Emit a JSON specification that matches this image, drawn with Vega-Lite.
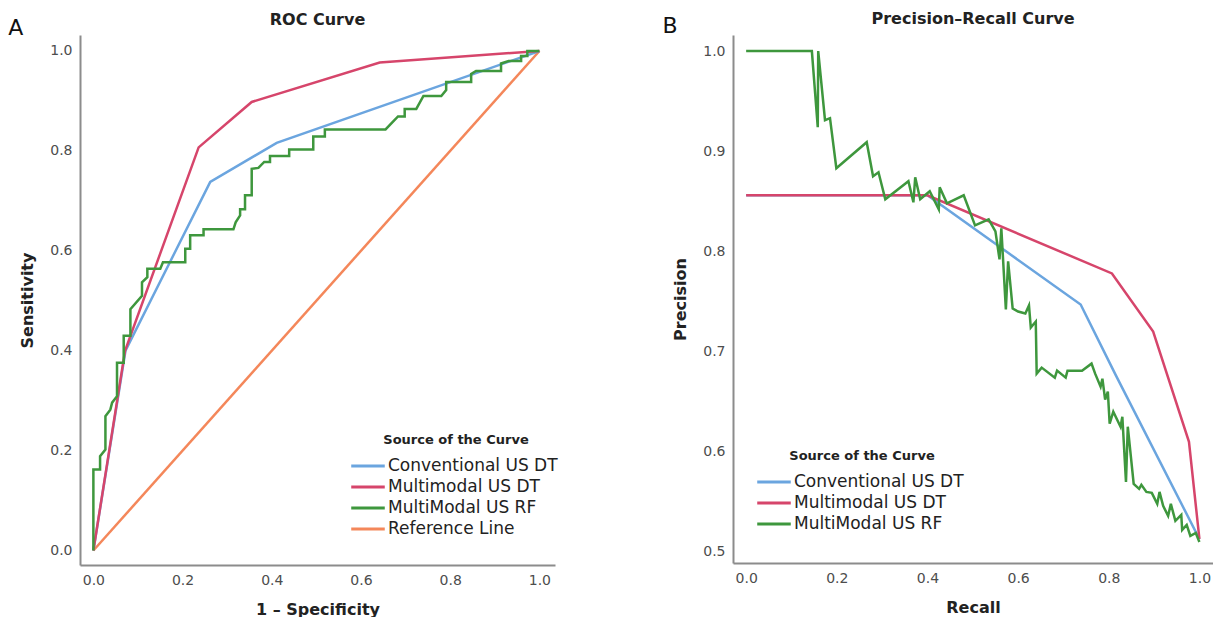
{
"$schema": "https://vega.github.io/schema/vega-lite/v6.json",
"background": "white",
"padding": {"left": 8, "top": 10, "right": 0, "bottom": 0},
"spacing": 104,
"config": {
  "font": "DejaVu Sans",
  "view": {"stroke": null},
  "axis": {"domainColor": "#8c8c8c", "domainWidth": 2, "ticks": false, "grid": false, "labelColor": "#4d4d4d", "labelFontSize": 14, "labelFont": "DejaVu Sans", "titleFont": "DejaVu Sans", "titleFontSize": 16, "titleFontWeight": "bold", "titleColor": "#222222", "labelPadding": 8},
  "legend": {"orient": "none", "padding": 0, "titleFont": "DejaVu Sans", "titleFontSize": 13, "titleFontWeight": "bold", "titleColor": "#222222", "titleAnchor": "middle", "titleAlign": "center", "titlePadding": 6, "labelFont": "DejaVu Sans", "labelFontSize": 17, "labelColor": "#222222", "labelLimit": 300, "symbolType": "M-1.5,0H1.5", "symbolStrokeWidth": 3, "symbolSize": 500, "rowPadding": 0, "labelOffset": 7},
  "title": {"font": "DejaVu Sans", "fontSize": 16, "fontWeight": "bold", "color": "#222222"}
},
"resolve": {"scale": {"color": "independent"}, "legend": {"color": "independent"}},
"datasets": {
  "roc": [
    {"curve": "Reference Line", "i": 0, "fpr": 0, "tpr": 0},
    {"curve": "Reference Line", "i": 1, "fpr": 1, "tpr": 1},
    {"curve": "Conventional US DT", "i": 0, "fpr": 0, "tpr": 0},
    {"curve": "Conventional US DT", "i": 1, "fpr": 0.072, "tpr": 0.40},
    {"curve": "Conventional US DT", "i": 2, "fpr": 0.262, "tpr": 0.738},
    {"curve": "Conventional US DT", "i": 3, "fpr": 0.411, "tpr": 0.816},
    {"curve": "Conventional US DT", "i": 4, "fpr": 1, "tpr": 1},
    {"curve": "Multimodal US DT", "i": 0, "fpr": 0, "tpr": 0},
    {"curve": "Multimodal US DT", "i": 1, "fpr": 0.071, "tpr": 0.40},
    {"curve": "Multimodal US DT", "i": 2, "fpr": 0.236, "tpr": 0.807},
    {"curve": "Multimodal US DT", "i": 3, "fpr": 0.355, "tpr": 0.898},
    {"curve": "Multimodal US DT", "i": 4, "fpr": 0.642, "tpr": 0.977},
    {"curve": "Multimodal US DT", "i": 5, "fpr": 1, "tpr": 1},
    {"curve": "MultiModal US RF", "i": 0, "fpr": 0, "tpr": 0},
    {"curve": "MultiModal US RF", "i": 1, "fpr": 0, "tpr": 0.162},
    {"curve": "MultiModal US RF", "i": 2, "fpr": 0.015, "tpr": 0.162},
    {"curve": "MultiModal US RF", "i": 3, "fpr": 0.015, "tpr": 0.189},
    {"curve": "MultiModal US RF", "i": 4, "fpr": 0.027, "tpr": 0.202},
    {"curve": "MultiModal US RF", "i": 5, "fpr": 0.027, "tpr": 0.269},
    {"curve": "MultiModal US RF", "i": 6, "fpr": 0.038, "tpr": 0.282},
    {"curve": "MultiModal US RF", "i": 7, "fpr": 0.042, "tpr": 0.296},
    {"curve": "MultiModal US RF", "i": 8, "fpr": 0.053, "tpr": 0.309},
    {"curve": "MultiModal US RF", "i": 9, "fpr": 0.053, "tpr": 0.376},
    {"curve": "MultiModal US RF", "i": 10, "fpr": 0.068, "tpr": 0.376},
    {"curve": "MultiModal US RF", "i": 11, "fpr": 0.068, "tpr": 0.43},
    {"curve": "MultiModal US RF", "i": 12, "fpr": 0.083, "tpr": 0.43},
    {"curve": "MultiModal US RF", "i": 13, "fpr": 0.083, "tpr": 0.483},
    {"curve": "MultiModal US RF", "i": 14, "fpr": 0.109, "tpr": 0.51},
    {"curve": "MultiModal US RF", "i": 15, "fpr": 0.109, "tpr": 0.537},
    {"curve": "MultiModal US RF", "i": 16, "fpr": 0.121, "tpr": 0.547},
    {"curve": "MultiModal US RF", "i": 17, "fpr": 0.121, "tpr": 0.564},
    {"curve": "MultiModal US RF", "i": 18, "fpr": 0.15, "tpr": 0.564},
    {"curve": "MultiModal US RF", "i": 19, "fpr": 0.156, "tpr": 0.577},
    {"curve": "MultiModal US RF", "i": 20, "fpr": 0.206, "tpr": 0.577},
    {"curve": "MultiModal US RF", "i": 21, "fpr": 0.206, "tpr": 0.604},
    {"curve": "MultiModal US RF", "i": 22, "fpr": 0.217, "tpr": 0.604},
    {"curve": "MultiModal US RF", "i": 23, "fpr": 0.217, "tpr": 0.631},
    {"curve": "MultiModal US RF", "i": 24, "fpr": 0.247, "tpr": 0.631},
    {"curve": "MultiModal US RF", "i": 25, "fpr": 0.247, "tpr": 0.643},
    {"curve": "MultiModal US RF", "i": 26, "fpr": 0.314, "tpr": 0.643},
    {"curve": "MultiModal US RF", "i": 27, "fpr": 0.319, "tpr": 0.657},
    {"curve": "MultiModal US RF", "i": 28, "fpr": 0.329, "tpr": 0.671},
    {"curve": "MultiModal US RF", "i": 29, "fpr": 0.329, "tpr": 0.683},
    {"curve": "MultiModal US RF", "i": 30, "fpr": 0.34, "tpr": 0.683},
    {"curve": "MultiModal US RF", "i": 31, "fpr": 0.34, "tpr": 0.711},
    {"curve": "MultiModal US RF", "i": 32, "fpr": 0.355, "tpr": 0.711},
    {"curve": "MultiModal US RF", "i": 33, "fpr": 0.355, "tpr": 0.764},
    {"curve": "MultiModal US RF", "i": 34, "fpr": 0.37, "tpr": 0.766},
    {"curve": "MultiModal US RF", "i": 35, "fpr": 0.383, "tpr": 0.778},
    {"curve": "MultiModal US RF", "i": 36, "fpr": 0.396, "tpr": 0.778},
    {"curve": "MultiModal US RF", "i": 37, "fpr": 0.396, "tpr": 0.79},
    {"curve": "MultiModal US RF", "i": 38, "fpr": 0.439, "tpr": 0.79},
    {"curve": "MultiModal US RF", "i": 39, "fpr": 0.439, "tpr": 0.803},
    {"curve": "MultiModal US RF", "i": 40, "fpr": 0.493, "tpr": 0.803},
    {"curve": "MultiModal US RF", "i": 41, "fpr": 0.493, "tpr": 0.829},
    {"curve": "MultiModal US RF", "i": 42, "fpr": 0.519, "tpr": 0.829},
    {"curve": "MultiModal US RF", "i": 43, "fpr": 0.519, "tpr": 0.843},
    {"curve": "MultiModal US RF", "i": 44, "fpr": 0.655, "tpr": 0.843},
    {"curve": "MultiModal US RF", "i": 45, "fpr": 0.683, "tpr": 0.869},
    {"curve": "MultiModal US RF", "i": 46, "fpr": 0.698, "tpr": 0.869},
    {"curve": "MultiModal US RF", "i": 47, "fpr": 0.698, "tpr": 0.884},
    {"curve": "MultiModal US RF", "i": 48, "fpr": 0.724, "tpr": 0.884},
    {"curve": "MultiModal US RF", "i": 49, "fpr": 0.74, "tpr": 0.91},
    {"curve": "MultiModal US RF", "i": 50, "fpr": 0.78, "tpr": 0.91},
    {"curve": "MultiModal US RF", "i": 51, "fpr": 0.791, "tpr": 0.922},
    {"curve": "MultiModal US RF", "i": 52, "fpr": 0.791, "tpr": 0.938},
    {"curve": "MultiModal US RF", "i": 53, "fpr": 0.847, "tpr": 0.938},
    {"curve": "MultiModal US RF", "i": 54, "fpr": 0.847, "tpr": 0.954},
    {"curve": "MultiModal US RF", "i": 55, "fpr": 0.858, "tpr": 0.96},
    {"curve": "MultiModal US RF", "i": 56, "fpr": 0.914, "tpr": 0.96},
    {"curve": "MultiModal US RF", "i": 57, "fpr": 0.914, "tpr": 0.975},
    {"curve": "MultiModal US RF", "i": 58, "fpr": 0.931, "tpr": 0.98},
    {"curve": "MultiModal US RF", "i": 59, "fpr": 0.959, "tpr": 0.98},
    {"curve": "MultiModal US RF", "i": 60, "fpr": 0.959, "tpr": 0.99},
    {"curve": "MultiModal US RF", "i": 61, "fpr": 0.973, "tpr": 0.99},
    {"curve": "MultiModal US RF", "i": 62, "fpr": 0.973, "tpr": 1.0},
    {"curve": "MultiModal US RF", "i": 63, "fpr": 1, "tpr": 1}
  ],
  "pr": [
    {"curve": "Conventional US DT", "i": 0, "recall": 0, "precision": 0.856},
    {"curve": "Conventional US DT", "i": 1, "recall": 0.40, "precision": 0.856},
    {"curve": "Conventional US DT", "i": 2, "recall": 0.738, "precision": 0.747},
    {"curve": "Conventional US DT", "i": 3, "recall": 0.816, "precision": 0.676},
    {"curve": "Conventional US DT", "i": 4, "recall": 1.0, "precision": 0.513},
    {"curve": "Multimodal US DT", "i": 0, "recall": 0, "precision": 0.856},
    {"curve": "Multimodal US DT", "i": 1, "recall": 0.40, "precision": 0.856},
    {"curve": "Multimodal US DT", "i": 2, "recall": 0.807, "precision": 0.778},
    {"curve": "Multimodal US DT", "i": 3, "recall": 0.898, "precision": 0.72},
    {"curve": "Multimodal US DT", "i": 4, "recall": 0.977, "precision": 0.61},
    {"curve": "Multimodal US DT", "i": 5, "recall": 1.0, "precision": 0.513},
    {"curve": "MultiModal US RF", "i": 0, "recall": 0, "precision": 1.0},
    {"curve": "MultiModal US RF", "i": 1, "recall": 0.145, "precision": 1.0},
    {"curve": "MultiModal US RF", "i": 2, "recall": 0.158, "precision": 0.924},
    {"curve": "MultiModal US RF", "i": 3, "recall": 0.159, "precision": 1.0},
    {"curve": "MultiModal US RF", "i": 4, "recall": 0.174, "precision": 0.931},
    {"curve": "MultiModal US RF", "i": 5, "recall": 0.185, "precision": 0.933},
    {"curve": "MultiModal US RF", "i": 6, "recall": 0.199, "precision": 0.883},
    {"curve": "MultiModal US RF", "i": 7, "recall": 0.266, "precision": 0.909},
    {"curve": "MultiModal US RF", "i": 8, "recall": 0.28, "precision": 0.875},
    {"curve": "MultiModal US RF", "i": 9, "recall": 0.292, "precision": 0.879},
    {"curve": "MultiModal US RF", "i": 10, "recall": 0.307, "precision": 0.852},
    {"curve": "MultiModal US RF", "i": 11, "recall": 0.358, "precision": 0.87},
    {"curve": "MultiModal US RF", "i": 12, "recall": 0.369, "precision": 0.849},
    {"curve": "MultiModal US RF", "i": 13, "recall": 0.373, "precision": 0.874},
    {"curve": "MultiModal US RF", "i": 14, "recall": 0.384, "precision": 0.852},
    {"curve": "MultiModal US RF", "i": 15, "recall": 0.405, "precision": 0.86},
    {"curve": "MultiModal US RF", "i": 16, "recall": 0.425, "precision": 0.842},
    {"curve": "MultiModal US RF", "i": 17, "recall": 0.427, "precision": 0.864},
    {"curve": "MultiModal US RF", "i": 18, "recall": 0.443, "precision": 0.848},
    {"curve": "MultiModal US RF", "i": 19, "recall": 0.48, "precision": 0.856},
    {"curve": "MultiModal US RF", "i": 20, "recall": 0.505, "precision": 0.826},
    {"curve": "MultiModal US RF", "i": 21, "recall": 0.535, "precision": 0.832},
    {"curve": "MultiModal US RF", "i": 22, "recall": 0.55, "precision": 0.82},
    {"curve": "MultiModal US RF", "i": 23, "recall": 0.559, "precision": 0.792},
    {"curve": "MultiModal US RF", "i": 24, "recall": 0.563, "precision": 0.823},
    {"curve": "MultiModal US RF", "i": 25, "recall": 0.573, "precision": 0.742},
    {"curve": "MultiModal US RF", "i": 26, "recall": 0.578, "precision": 0.79},
    {"curve": "MultiModal US RF", "i": 27, "recall": 0.588, "precision": 0.743},
    {"curve": "MultiModal US RF", "i": 28, "recall": 0.6, "precision": 0.74},
    {"curve": "MultiModal US RF", "i": 29, "recall": 0.616, "precision": 0.738},
    {"curve": "MultiModal US RF", "i": 30, "recall": 0.624, "precision": 0.746},
    {"curve": "MultiModal US RF", "i": 31, "recall": 0.628, "precision": 0.724},
    {"curve": "MultiModal US RF", "i": 32, "recall": 0.639, "precision": 0.73},
    {"curve": "MultiModal US RF", "i": 33, "recall": 0.641, "precision": 0.678},
    {"curve": "MultiModal US RF", "i": 34, "recall": 0.652, "precision": 0.684},
    {"curve": "MultiModal US RF", "i": 35, "recall": 0.681, "precision": 0.674},
    {"curve": "MultiModal US RF", "i": 36, "recall": 0.686, "precision": 0.681},
    {"curve": "MultiModal US RF", "i": 37, "recall": 0.705, "precision": 0.674},
    {"curve": "MultiModal US RF", "i": 38, "recall": 0.709, "precision": 0.681},
    {"curve": "MultiModal US RF", "i": 39, "recall": 0.741, "precision": 0.681},
    {"curve": "MultiModal US RF", "i": 40, "recall": 0.762, "precision": 0.688},
    {"curve": "MultiModal US RF", "i": 41, "recall": 0.77, "precision": 0.678},
    {"curve": "MultiModal US RF", "i": 42, "recall": 0.782, "precision": 0.665},
    {"curve": "MultiModal US RF", "i": 43, "recall": 0.786, "precision": 0.673},
    {"curve": "MultiModal US RF", "i": 44, "recall": 0.792, "precision": 0.652},
    {"curve": "MultiModal US RF", "i": 45, "recall": 0.798, "precision": 0.66},
    {"curve": "MultiModal US RF", "i": 46, "recall": 0.802, "precision": 0.628},
    {"curve": "MultiModal US RF", "i": 47, "recall": 0.81, "precision": 0.64},
    {"curve": "MultiModal US RF", "i": 48, "recall": 0.826, "precision": 0.625},
    {"curve": "MultiModal US RF", "i": 49, "recall": 0.83, "precision": 0.635},
    {"curve": "MultiModal US RF", "i": 50, "recall": 0.838, "precision": 0.57},
    {"curve": "MultiModal US RF", "i": 51, "recall": 0.842, "precision": 0.625},
    {"curve": "MultiModal US RF", "i": 52, "recall": 0.855, "precision": 0.568},
    {"curve": "MultiModal US RF", "i": 53, "recall": 0.867, "precision": 0.563},
    {"curve": "MultiModal US RF", "i": 54, "recall": 0.872, "precision": 0.567},
    {"curve": "MultiModal US RF", "i": 55, "recall": 0.883, "precision": 0.56},
    {"curve": "MultiModal US RF", "i": 56, "recall": 0.895, "precision": 0.559},
    {"curve": "MultiModal US RF", "i": 57, "recall": 0.907, "precision": 0.548},
    {"curve": "MultiModal US RF", "i": 58, "recall": 0.912, "precision": 0.56},
    {"curve": "MultiModal US RF", "i": 59, "recall": 0.92, "precision": 0.546},
    {"curve": "MultiModal US RF", "i": 60, "recall": 0.931, "precision": 0.536},
    {"curve": "MultiModal US RF", "i": 61, "recall": 0.937, "precision": 0.548},
    {"curve": "MultiModal US RF", "i": 62, "recall": 0.947, "precision": 0.531},
    {"curve": "MultiModal US RF", "i": 63, "recall": 0.96, "precision": 0.537},
    {"curve": "MultiModal US RF", "i": 64, "recall": 0.962, "precision": 0.522},
    {"curve": "MultiModal US RF", "i": 65, "recall": 0.972, "precision": 0.527},
    {"curve": "MultiModal US RF", "i": 66, "recall": 0.98, "precision": 0.516},
    {"curve": "MultiModal US RF", "i": 67, "recall": 0.992, "precision": 0.519},
    {"curve": "MultiModal US RF", "i": 68, "recall": 1.0, "precision": 0.51}
  ]
},
"hconcat": [
  {
    "width": 475,
    "height": 530,
    "title": {"text": "ROC Curve", "anchor": "middle", "offset": -11},
    "layer": [
      {
        "data": {"name": "roc"},
        "mark": {"type": "line", "strokeWidth": 2.5, "clip": false},
        "encoding": {
          "x": {"field": "fpr", "type": "quantitative", "scale": {"domain": [-0.03, 1.035], "nice": false, "zero": false}, "axis": {"values": [0, 0.2, 0.4, 0.6, 0.8, 1], "format": ".1f", "title": "1 – Specificity", "titlePadding": 14}},
          "y": {"field": "tpr", "type": "quantitative", "scale": {"domain": [-0.029, 1.032], "nice": false, "zero": false}, "axis": {"values": [0, 0.2, 0.4, 0.6, 0.8, 1], "format": ".1f", "title": "Sensitivity", "titlePadding": 14}},
          "color": {"field": "curve", "type": "nominal", "scale": {"domain": ["Conventional US DT", "Multimodal US DT", "MultiModal US RF", "Reference Line"], "range": ["#6ba5df", "#d6456b", "#3e973d", "#f4875a"]}, "legend": {"title": "Source of the Curve", "legendX": 275, "legendY": 399}},
          "order": {"field": "i", "type": "quantitative"}
        }
      },
      {
        "data": {"values": [{"label": "A"}]},
        "mark": {"type": "text", "fontSize": 22, "font": "DejaVu Sans", "align": "center", "baseline": "middle", "color": "#111111"},
        "encoding": {"x": {"datum": -0.174}, "y": {"datum": 1.046}, "text": {"field": "label"}}
      }
    ]
  },
  {
    "width": 480,
    "height": 528,
    "title": {"text": "Precision–Recall Curve", "anchor": "middle", "frame": "group", "offset": -12},
    "layer": [
      {
        "data": {"name": "pr"},
        "mark": {"type": "line", "strokeWidth": 2.5, "clip": false},
        "encoding": {
          "x": {"field": "recall", "type": "quantitative", "scale": {"domain": [-0.029, 1.03], "nice": false, "zero": false}, "axis": {"values": [0, 0.2, 0.4, 0.6, 0.8, 1], "format": ".1f", "title": "Recall", "titlePadding": 14}},
          "y": {"field": "precision", "type": "quantitative", "scale": {"domain": [0.489, 1.016], "nice": false, "zero": false}, "axis": {"values": [0.5, 0.6, 0.7, 0.8, 0.9, 1], "format": ".1f", "title": "Precision", "titlePadding": 14}},
          "color": {"field": "curve", "type": "nominal", "scale": {"domain": ["Conventional US DT", "Multimodal US DT", "MultiModal US RF"], "range": ["#6ba5df", "#d6456b", "#3e973d"]}, "legend": {"title": "Source of the Curve", "legendX": 28, "legendY": 415}},
          "order": {"field": "i", "type": "quantitative"}
        }
      },
      {
        "data": {"values": [{"label": "B"}]},
        "mark": {"type": "text", "fontSize": 22, "font": "DejaVu Sans", "align": "center", "baseline": "middle", "color": "#111111"},
        "encoding": {"x": {"datum": -0.168}, "y": {"datum": 1.025}, "text": {"field": "label"}}
      }
    ]
  }
]
}
